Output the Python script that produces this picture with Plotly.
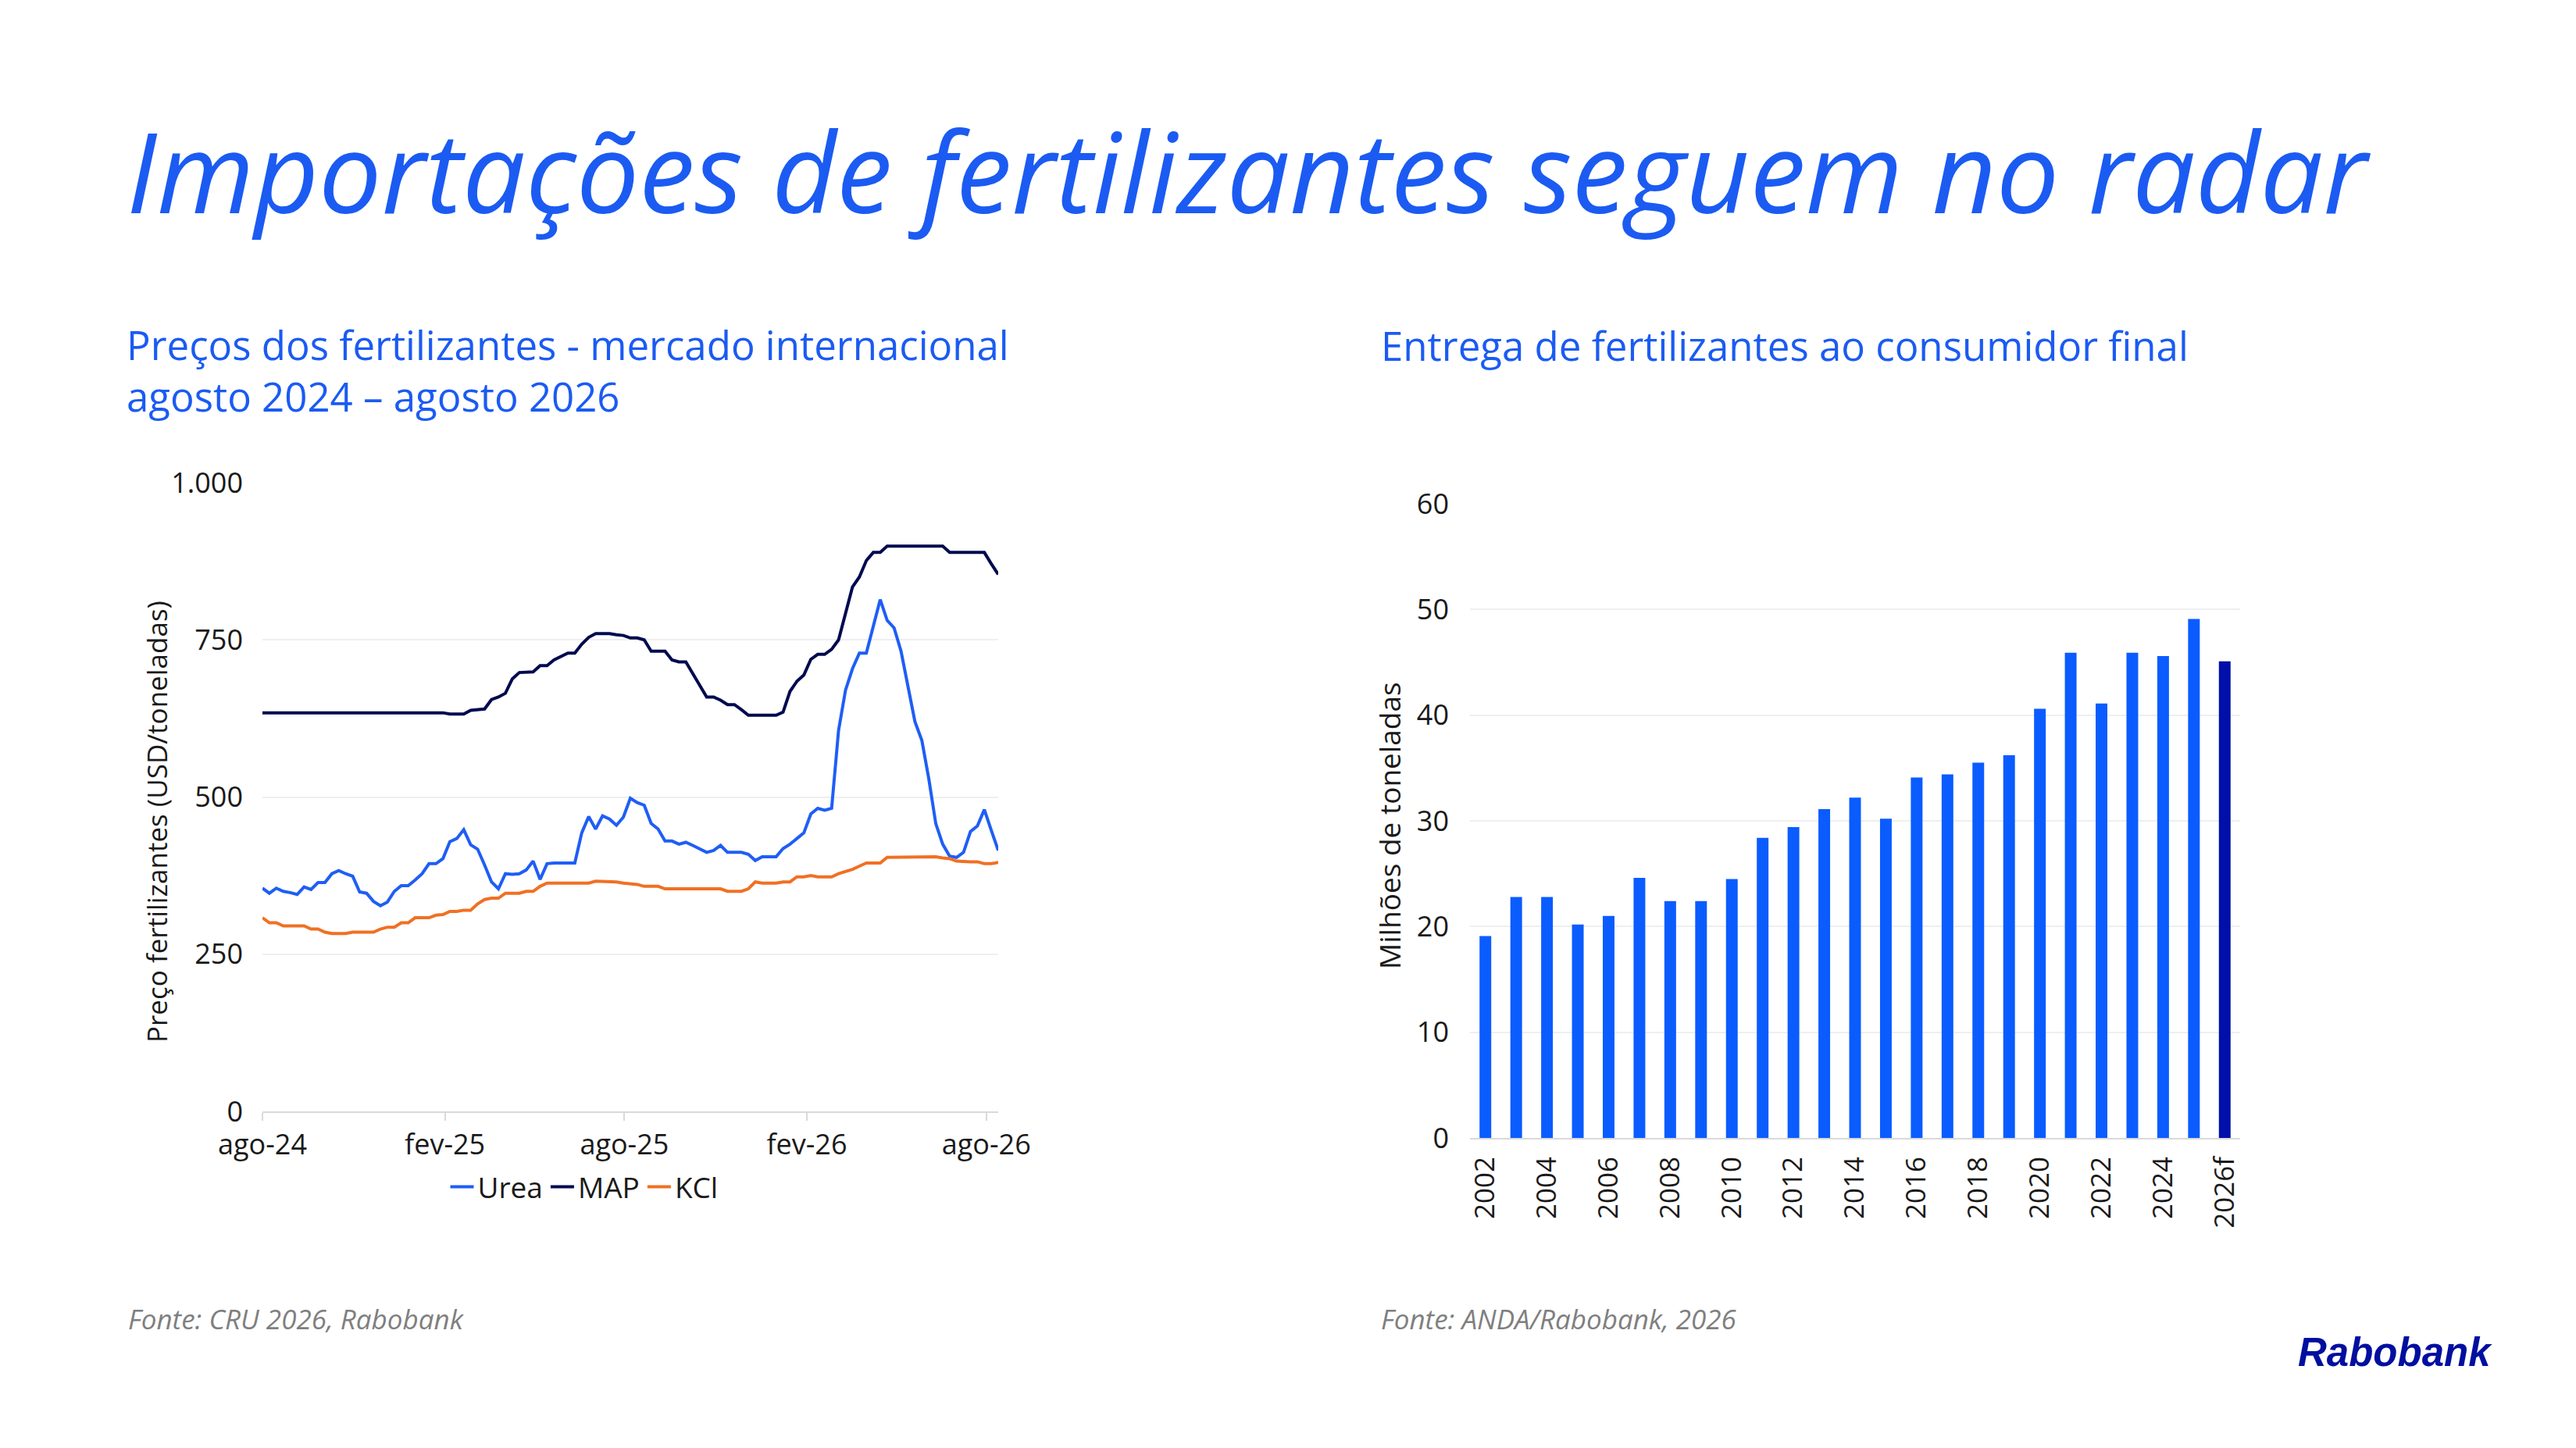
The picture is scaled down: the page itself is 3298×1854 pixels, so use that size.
import pandas as pd
import plotly.graph_objects as go

# --- Preços dos fertilizantes (USD/t), semanal, ago-24 a ago-26 ---
start_date = "2024-08-01"
n_weeks = 107

urea = [355, 347, 355, 350, 348, 345, 357, 353, 364, 364, 378, 383, 378, 374, 349, 347, 334, 327, 333, 350,
        359, 359, 368, 378, 394, 394, 402, 429, 434, 448, 424, 417, 392, 365, 354, 378, 377, 378, 384, 398,
        369, 394, 395, 395, 395, 395, 443, 469, 449, 470, 465, 455, 468, 498, 491, 487, 458, 449, 430, 430,
        425, 428, 423, 418, 412, 415, 423, 412, 412, 412, 409, 399, 405, 405, 405, 418, 425, 434, 443, 473,
        482, 479, 482, 606, 670, 704, 729, 729, 770, 814, 781, 769, 732, 677, 620, 590, 529, 458, 425, 406,
        404, 412, 445, 454, 480, 447, 415]

map_ = [634, 634, 634, 634, 634, 634, 634, 634, 634, 634, 634, 634, 634, 634, 634, 634, 634, 634, 634, 634,
        634, 634, 634, 634, 634, 634, 634, 632, 632, 632, 638, 639, 640, 655, 659, 665, 688, 698, 698, 699,
        709, 709, 718, 723, 729, 729, 743, 754, 760, 760, 760, 758, 757, 753, 753, 750, 732, 732, 732, 718,
        715, 715, 697, 678, 659, 659, 654, 647, 647, 639, 630, 630, 630, 630, 630, 635, 668, 684, 694, 719,
        727, 727, 735, 750, 792, 834, 850, 876, 889, 889, 899, 899, 899, 899, 899, 899, 899, 899, 899, 889,
        889, 889, 889, 889, 889, 871, 854]

kcl = [308, 300, 300, 295, 295, 295, 295, 290, 290, 285, 283, 283, 283, 285, 285, 285, 285, 290, 293, 293,
       300, 300, 308, 308, 308, 312, 313, 318, 318, 320, 320, 330, 337, 339, 339, 347, 347, 347, 350, 350,
       358, 363, 363, 363, 363, 363, 363, 363, 366, 366, 366, 365, 363, 362, 361, 358, 358, 358, 354, 354,
       354, 354, 354, 354, 354, 354, 354, 350, 350, 350, 354, 365, 363, 363, 363, 365, 365, 373, 373, 375,
       373, 373, 373, 378, 381, 385, 390, 395, 395, 395, 404, 404, 405, 405, 405, 405, 405, 405, 403, 402,
       398, 397, 397, 397, 394, 394, 396]

line_ticks = ["2024-08-01", "2025-02-01", "2025-08-01", "2026-02-01", "2026-08-01"]
line_ticktext = ["ago-24", "fev-25", "ago-25", "fev-26", "ago-26"]

# --- Entrega de fertilizantes ao consumidor final (milhões de t) ---
years = ["2002", "2003", "2004", "2005", "2006", "2007", "2008", "2009", "2010", "2011", "2012", "2013",
         "2014", "2015", "2016", "2017", "2018", "2019", "2020", "2021", "2022", "2023", "2024", "2025", "2026f"]
deliveries = [19.1, 22.8, 22.8, 20.2, 21.0, 24.6, 22.4, 22.4, 24.5, 28.4, 29.4, 31.1,
              32.2, 30.2, 34.1, 34.4, 35.5, 36.2, 40.6, 45.9, 41.1, 45.9, 45.6, 49.1, 45.1]
bar_ticks = ["2002", "2004", "2006", "2008", "2010", "2012", "2014", "2016", "2018", "2020", "2022", "2024", "2026f"]

dates = pd.date_range(start_date, periods=n_weeks, freq="7D")

W, H = 3298, 1854
OFF = 8  # page body margin
BLUE = "#1b5bf2"
FONT = "Open Sans"
TICKFONT = dict(family=FONT, size=36, color="#1a1a1a")
GRID = "#efefef"
AXIS = "#d9d9d9"


def px(x):
    return (x - OFF) / W


def py(y):
    return 1 - (y - OFF) / H


fig = go.Figure()

for name, vals, color in [("Urea", urea, "#1f5ef5"), ("MAP", map_, "#000a4f"), ("KCl", kcl, "#f07023")]:
    fig.add_trace(go.Scatter(
        x=dates, y=vals, name=name, mode="lines",
        line=dict(color=color, width=4),
        xaxis="x", yaxis="y",
    ))

bar_colors = ["#0a5cff"] * (len(years) - 1) + ["#0010a8"]
fig.add_trace(go.Bar(
    x=years, y=deliveries, marker=dict(color=bar_colors, line=dict(width=0)),
    xaxis="x2", yaxis="y2", showlegend=False,
))

fig.update_layout(
    width=W, height=H,
    margin=dict(l=0, r=0, t=0, b=0, pad=0),
    paper_bgcolor="white", plot_bgcolor="white",
    separators=",.",
    bargap=0.62,
    font=dict(family=FONT, color="#1a1a1a"),
    xaxis=dict(
        domain=[px(336), px(1278)], type="date",
        range=[dates[0], dates[-1]],
        tickvals=line_ticks, ticktext=line_ticktext,
        showgrid=False, zeroline=False,
        showline=True, linecolor=AXIS, linewidth=2,
        ticks="outside", tickcolor=AXIS, ticklen=10, tickwidth=2,
        tickfont=TICKFONT, anchor="y", automargin=False,
    ),
    yaxis=dict(
        domain=[py(1423), py(618)], range=[0, 1000],
        tickvals=[0, 250, 500, 750, 1000], tickformat=",d",
        showgrid=True, gridcolor=GRID, gridwidth=2, zeroline=False,
        showline=False, ticks="", ticklabelstandoff=24,
        tickfont=TICKFONT, anchor="x", automargin=False,
    ),
    xaxis2=dict(
        domain=[px(1882), px(2868)], type="category",
        tickvals=bar_ticks, ticktext=bar_ticks, tickangle=-90,
        showgrid=False, zeroline=False,
        showline=True, linecolor=AXIS, linewidth=2, ticks="",
        ticklabelstandoff=8,
        tickfont=dict(family=FONT, size=35, color="#1a1a1a"), anchor="y2", automargin=False,
    ),
    yaxis2=dict(
        domain=[py(1457), py(645)], range=[0, 60],
        tickvals=[0, 10, 20, 30, 40, 50, 60],
        showgrid=True, gridcolor=GRID, gridwidth=2, zeroline=False,
        showline=False, ticks="", ticklabelstandoff=26,
        tickfont=TICKFONT, anchor="x2", automargin=False,
    ),
    legend=dict(
        orientation="h", x=px(748), xanchor="center", y=py(1520), yanchor="middle",
        font=dict(family=FONT, size=37, color="#1a1a1a"),
        itemwidth=30, tracegroupgap=0, bgcolor="rgba(0,0,0,0)",
    ),
)

annotations = [
    dict(text="Importações de fertilizantes seguem no radar", x=px(160), y=py(218),
         xanchor="left", yanchor="middle",
         font=dict(family=FONT, size=143, color=BLUE, style="italic")),
    dict(text="Preços dos fertilizantes - mercado internacional<br>agosto 2024 – agosto 2026",
         x=px(160), y=py(474), xanchor="left", yanchor="middle", align="left",
         font=dict(family=FONT, size=51, color=BLUE)),
    dict(text="Entrega de fertilizantes ao consumidor final", x=px(1766), y=py(442),
         xanchor="left", yanchor="middle",
         font=dict(family=FONT, size=51, color=BLUE)),
    dict(text="Preço fertilizantes (USD/toneladas)", x=px(200), y=py(1052), textangle=-90,
         xanchor="center", yanchor="middle",
         font=dict(family=FONT, size=35, color="#1a1a1a")),
    dict(text="Milhões de toneladas", x=px(1778), y=py(1057), textangle=-90,
         xanchor="center", yanchor="middle",
         font=dict(family=FONT, size=37, color="#1a1a1a")),
    dict(text="Fonte: CRU 2026, Rabobank", x=px(162), y=py(1688),
         xanchor="left", yanchor="middle",
         font=dict(family=FONT, size=35, color="#7f7f7f", style="italic")),
    dict(text="Fonte: ANDA/Rabobank, 2026", x=px(1766), y=py(1688),
         xanchor="left", yanchor="middle",
         font=dict(family=FONT, size=35, color="#7f7f7f", style="italic")),
    dict(text="Rabobank", x=px(3193), y=py(1731),
         xanchor="right", yanchor="middle",
         font=dict(family="Liberation Sans", size=51, color="#000f9f", weight="bold", style="italic")),
]
for a in annotations:
    a.update(xref="paper", yref="paper", showarrow=False)
fig.update_layout(annotations=annotations)

fig.write_html("out.html")
